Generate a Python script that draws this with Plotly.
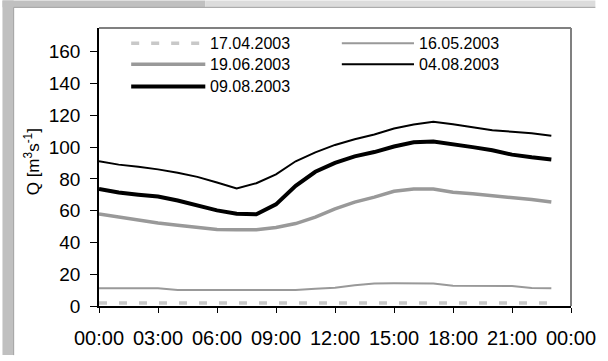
import plotly.graph_objects as go

# Hourly discharge for five days (hour of day 0..23)
hours = list(range(24))

q_17_04 = [1.9] * 24
q_16_05 = [11.1, 11.1, 11.1, 11.1, 10.1, 10.1, 10.1, 10.1, 10.1, 10.1, 10.1, 10.8,
           11.5, 13.0, 14.2, 14.3, 14.3, 14.1, 12.8, 12.7, 12.7, 12.6, 11.3, 11.1]
q_19_06 = [58.0, 56.0, 54.0, 52.3, 50.9, 49.4, 48.1, 48.0, 48.0, 49.4, 51.9, 56.0,
           61.2, 65.4, 68.5, 72.2, 73.7, 73.7, 71.6, 70.6, 69.5, 68.5, 67.0, 65.4]
q_04_08 = [91.1, 89.0, 87.6, 86.0, 83.9, 81.3, 77.7, 74.0, 77.3, 82.9, 91.1, 96.7,
           101.4, 105.0, 108.0, 111.7, 114.2, 115.9, 114.4, 112.4, 110.7, 109.7, 108.7, 107.2]
q_09_08 = [73.6, 71.5, 70.1, 68.9, 66.4, 63.3, 60.2, 58.1, 57.7, 64.0, 75.7, 84.5,
           90.1, 94.2, 96.9, 100.4, 103.1, 103.5, 102.0, 100.0, 98.0, 95.3, 93.6, 92.2]

tick_hours = [0, 3, 6, 9, 12, 15, 18, 21, 24]
tick_labels = ["00:00", "03:00", "06:00", "09:00", "12:00", "15:00", "18:00", "21:00", "00:00"]
y_ticks = [0, 20, 40, 60, 80, 100, 120, 140, 160]

series = [
    ("17.04.2003", q_17_04, dict(color="#c8c8c8", width=3.5, dash="8px,12px")),
    ("16.05.2003", q_16_05, dict(color="#999999", width=2)),
    ("19.06.2003", q_19_06, dict(color="#999999", width=3.5)),
    ("04.08.2003", q_04_08, dict(color="#000000", width=2)),
    ("09.08.2003", q_09_08, dict(color="#000000", width=4)),
]

W, H = 608, 361
L, R, T, B = 99, 25, 28, 50
PW, PH = W - L - R, H - T - B


def px(x):
    return (x - L) / PW


def py(y):
    return 1 - (y - T) / PH


FONT = "Liberation Sans, Arial, sans-serif"

fig = go.Figure()
for name, vals, line in series:
    fig.add_trace(go.Scatter(x=hours, y=vals, mode="lines", name=name,
                             line=line, showlegend=False))

shapes = []
# window chrome: grey strips on the left and top
shapes.append(dict(type="rect", xref="paper", yref="paper", x0=px(0), x1=px(11.5),
                   y0=py(H), y1=py(0), fillcolor="#c0c0c0", line_width=0, layer="below"))
shapes.append(dict(type="rect", xref="paper", yref="paper", x0=px(0), x1=px(208),
                   y0=py(7), y1=py(0), fillcolor="#c0c0c0", line_width=0, layer="below"))
shapes.append(dict(type="rect", xref="paper", yref="paper", x0=px(208), x1=px(W),
                   y0=py(7), y1=py(0), fillcolor="#dcdcdc", line_width=0, layer="below"))
shapes.append(dict(type="line", xref="paper", yref="paper", x0=px(11.5), x1=px(11.5),
                   y0=py(H), y1=py(7), line=dict(color="#a0a0a0", width=1)))
shapes.append(dict(type="line", xref="paper", yref="paper", x0=px(11.5), x1=px(W),
                   y0=py(7), y1=py(7), line=dict(color="#a0a0a0", width=1)))
# plot frame: top and right edges
shapes.append(dict(type="line", xref="paper", yref="paper", x0=0, x1=1, y0=1, y1=1,
                   line=dict(color="#808080", width=2)))
shapes.append(dict(type="line", xref="paper", yref="paper", x0=1, x1=1, y0=0, y1=1,
                   line=dict(color="#808080", width=2)))

annotations = []
# legend, two columns
legend_pos = [(132, 208, 43.5), (348, 422, 43.5), (132, 208, 65), (348, 422, 65), (132, 208, 87.5)]
for (name, vals, line), (x0, x1, yy) in zip(series, legend_pos):
    shapes.append(dict(type="line", xref="paper", yref="paper", x0=px(x0), x1=px(x1),
                       y0=py(yy), y1=py(yy),
                       line=dict(color=line["color"], width=line["width"],
                                 dash=line.get("dash", "solid"))))
    annotations.append(dict(xref="paper", yref="paper", x=px(x1 + 3), y=py(yy), text=name,
                            showarrow=False, xanchor="left", yanchor="middle",
                            font=dict(family=FONT, size=16, color="#000000")))

annotations.append(dict(xref="paper", yref="paper", x=px(30), y=py(164),
                        text="Q [m<sup>3</sup>s<sup>-1</sup>]", textangle=-90,
                        showarrow=False, xanchor="center", yanchor="middle",
                        font=dict(family=FONT, size=17, color="#000000")))

fig.update_layout(
    width=W, height=H,
    margin=dict(l=L, r=R, t=T, b=B, pad=0),
    paper_bgcolor="#ffffff", plot_bgcolor="#ffffff",
    shapes=shapes, annotations=annotations,
    font=dict(family=FONT, size=20, color="#000000"),
    showlegend=False,
)
fig.update_xaxes(range=[0, 24], tickvals=tick_hours, ticktext=tick_labels,
                 showgrid=False, zeroline=False, showline=True, linecolor="#000000",
                 linewidth=1.5, ticks="outside", ticklen=5, tickcolor="#000000",
                 ticklabelstandoff=8, ticklabeloverflow="allow", tickfont=dict(size=20))
fig.update_yaxes(range=[0, 175], tickvals=y_ticks,
                 showgrid=False, zeroline=False, showline=True, linecolor="#000000",
                 linewidth=1.5, ticks="outside", ticklen=7, tickcolor="#000000",
                 ticklabelstandoff=6, tickfont=dict(size=19))

fig.write_html("out.html")
